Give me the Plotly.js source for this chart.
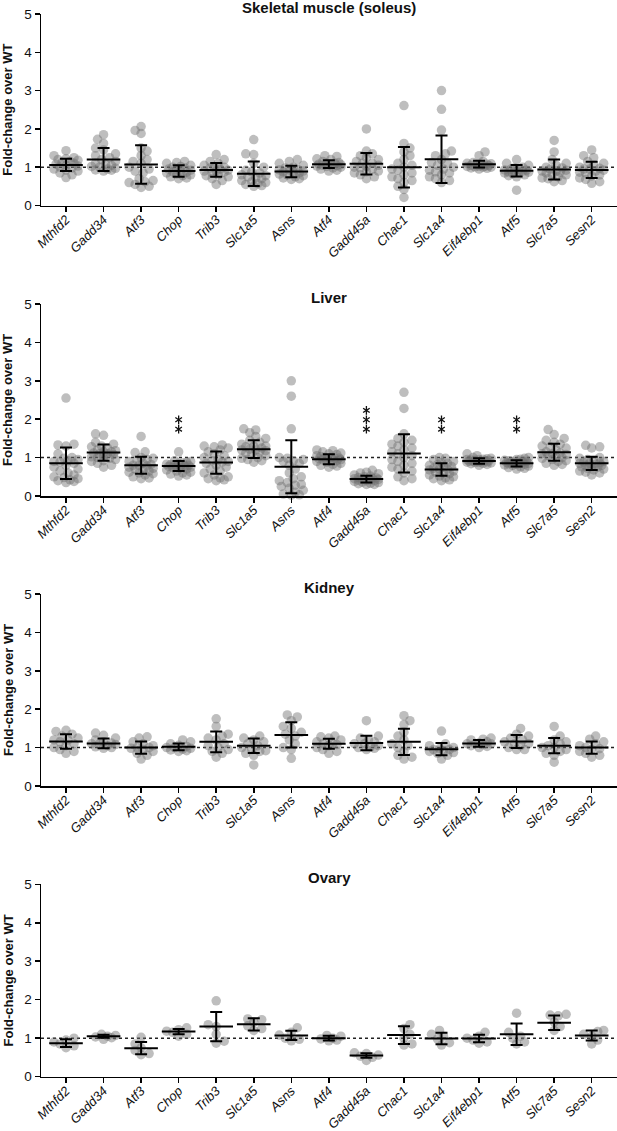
<!DOCTYPE html>
<html>
<head>
<meta charset="utf-8">
<script src="https://cdn.plot.ly/plotly-3.0.1.min.js"></script>
<style>html,body{margin:0;padding:0;background:#fff;}#chart{width:617px;height:1131px;}</style>
</head>
<body>
<div id="chart"></div>
<script>
// ---------- DATA ----------
const genes = ["Mthfd2","Gadd34","Atf3","Chop","Trib3","Slc1a5","Asns","Atf4","Gadd45a","Chac1","Slc1a4","Eif4ebp1","Atf5","Slc7a5","Sesn2"];
const panelTitles = ["Skeletal muscle (soleus)","Liver","Kidney","Ovary"];
const yTickVals = [0,1,2,3,4,5];

const muscle_points = [
  [1.43,1.3,1.25,1.22,1.2,1.18,1.15,1.12,1.1,1.08,1.05,1.03,1.0,0.98,0.95,0.92,0.9,0.85,0.8,0.73],
  [1.85,1.73,1.62,1.5,1.45,1.35,1.3,1.25,1.2,1.15,1.1,1.05,1.02,1.0,0.97,0.95,0.93,0.9,0.92,1.08],
  [2.06,1.96,1.88,1.5,1.42,1.3,1.2,1.1,1.0,0.95,0.85,0.7,0.65,0.62,0.6,0.55,0.5,0.47,0.9,1.15],
  [1.15,1.12,1.1,1.05,1.02,1.0,0.98,0.95,0.92,0.9,0.88,0.85,0.82,0.8,0.78,0.75,0.72,0.7,0.87,0.93],
  [1.33,1.2,1.15,1.1,1.05,1.0,0.98,0.95,0.92,0.9,0.87,0.85,0.8,0.78,0.75,0.7,0.65,0.55,1.0,0.9],
  [1.72,1.35,1.33,1.1,1.0,0.92,0.88,0.85,0.8,0.75,0.72,0.7,0.65,0.62,0.6,0.57,0.55,0.52,0.5,0.78],
  [1.2,1.15,1.1,1.05,1.0,0.98,0.95,0.92,0.9,0.88,0.85,0.82,0.8,0.78,0.75,0.72,0.7,0.68,0.87,0.93],
  [1.3,1.28,1.22,1.2,1.15,1.12,1.1,1.08,1.07,1.05,1.04,1.02,1.0,0.98,0.95,0.92,0.9,1.06,1.1,1.03],
  [2.0,1.42,1.35,1.3,1.25,1.2,1.15,1.1,1.05,1.0,0.98,0.95,0.9,0.88,0.85,0.8,0.75,0.7,1.1,1.02],
  [2.61,1.62,1.5,1.4,1.3,1.2,1.1,1.05,1.0,0.92,0.85,0.8,0.75,0.7,0.65,0.6,0.5,0.42,0.21,0.95],
  [3.0,2.51,1.97,1.42,1.35,1.3,1.2,1.1,1.05,1.0,0.92,0.88,0.85,0.8,0.75,0.7,0.65,0.6,1.12,0.95],
  [1.4,1.3,1.15,1.12,1.1,1.08,1.07,1.05,1.04,1.03,1.02,1.0,0.98,0.97,0.95,1.06,1.09,1.0,1.03,1.01],
  [1.2,1.1,1.05,1.0,0.98,0.95,0.93,0.92,0.9,0.88,0.86,0.85,0.83,0.8,0.78,0.75,0.4,0.9,0.95,0.87],
  [1.7,1.4,1.2,1.1,1.05,1.0,0.98,0.95,0.92,0.9,0.87,0.85,0.82,0.8,0.75,0.72,0.7,0.65,0.62,0.9],
  [1.45,1.3,1.25,1.15,1.1,1.05,1.0,0.97,0.95,0.92,0.9,0.87,0.85,0.8,0.77,0.72,0.68,0.62,0.58,0.95]
];
const muscle_mean = [1.06,1.2,1.07,0.9,0.93,0.83,0.89,1.08,1.09,1.0,1.21,1.08,0.91,0.94,0.93];
const muscle_sd   = [0.16,0.3,0.5,0.15,0.18,0.32,0.15,0.1,0.28,0.53,0.62,0.09,0.15,0.26,0.21];

const liver_points = [
  [2.55,1.35,1.33,1.3,1.1,1.0,0.98,0.95,0.9,0.88,0.85,0.8,0.75,0.7,0.65,0.6,0.55,0.5,0.48,0.45,0.42,0.4,0.38,0.35,0.92],
  [1.62,1.58,1.4,1.35,1.3,1.28,1.25,1.2,1.18,1.15,1.12,1.1,1.08,1.05,1.02,1.0,0.98,0.95,0.92,0.9,0.85,0.8,0.75,1.1,1.15],
  [1.55,1.15,1.13,1.0,0.98,0.95,0.92,0.9,0.85,0.82,0.8,0.78,0.75,0.72,0.7,0.68,0.65,0.62,0.6,0.58,0.55,0.5,0.47,0.45,0.8],
  [1.15,0.92,0.9,0.88,0.86,0.85,0.83,0.82,0.8,0.79,0.78,0.77,0.76,0.75,0.74,0.72,0.7,0.68,0.65,0.62,0.6,0.57,0.55,0.52,0.8],
  [1.33,1.3,1.28,1.25,1.2,1.15,1.1,1.05,1.0,0.95,0.92,0.9,0.85,0.8,0.75,0.7,0.65,0.6,0.55,0.5,0.47,0.45,0.42,0.4,0.88],
  [1.75,1.72,1.65,1.55,1.5,1.45,1.4,1.35,1.3,1.28,1.25,1.22,1.2,1.18,1.15,1.12,1.1,1.05,1.0,0.98,0.95,0.92,0.88,1.2,1.3],
  [3.0,2.6,1.75,1.0,0.98,0.95,0.92,0.9,0.85,0.8,0.7,0.6,0.5,0.45,0.4,0.35,0.3,0.28,0.25,0.2,0.15,0.1,0.05,0.03,0.02],
  [1.2,1.18,1.15,1.12,1.1,1.08,1.05,1.03,1.0,0.99,0.98,0.97,0.96,0.95,0.94,0.92,0.9,0.88,0.85,0.82,0.8,0.78,0.75,1.0,0.93],
  [0.67,0.62,0.6,0.58,0.55,0.52,0.5,0.48,0.47,0.46,0.45,0.44,0.43,0.42,0.41,0.4,0.38,0.36,0.35,0.33,0.32,0.3,0.3,0.45,0.4],
  [2.7,2.28,1.62,1.5,1.45,1.4,1.35,1.3,1.25,1.2,1.1,1.05,1.0,0.95,0.9,0.85,0.8,0.75,0.7,0.65,0.6,0.5,0.45,0.4,1.15],
  [1.0,0.98,0.95,0.9,0.87,0.85,0.82,0.8,0.77,0.75,0.72,0.7,0.68,0.65,0.62,0.6,0.58,0.55,0.52,0.5,0.47,0.45,0.42,0.4,0.7],
  [1.1,1.05,1.0,0.98,0.97,0.96,0.95,0.94,0.93,0.92,0.91,0.9,0.89,0.88,0.87,0.86,0.85,0.84,0.82,0.8,0.9,0.92,0.88,0.95,0.9],
  [1.0,0.98,0.96,0.95,0.93,0.92,0.9,0.89,0.88,0.87,0.86,0.85,0.84,0.83,0.82,0.81,0.8,0.78,0.76,0.74,0.72,0.7,0.85,0.86,0.9],
  [1.73,1.6,1.5,1.45,1.4,1.35,1.3,1.28,1.25,1.2,1.15,1.12,1.1,1.08,1.05,1.02,1.0,0.98,0.95,0.92,0.9,0.85,0.82,0.8,1.1],
  [1.32,1.28,1.25,1.0,0.98,0.95,0.92,0.9,0.88,0.86,0.85,0.83,0.8,0.78,0.76,0.75,0.72,0.7,0.68,0.65,0.62,0.6,0.55,0.85,0.8]
];
const liver_mean = [0.85,1.13,0.8,0.78,0.87,1.22,0.76,0.96,0.44,1.11,0.69,0.91,0.85,1.14,0.85];
const liver_sd   = [0.41,0.21,0.22,0.13,0.29,0.23,0.69,0.13,0.09,0.5,0.16,0.07,0.08,0.22,0.17];
const liver_stars = [0,0,0,2,0,0,0,0,3,0,2,0,2,0,0];

const kidney_points = [
  [1.45,1.42,1.35,1.3,1.25,1.2,1.15,1.1,1.05,1.0,0.95,0.9,0.85,1.2],
  [1.38,1.32,1.25,1.2,1.15,1.12,1.1,1.08,1.05,1.02,1.0,0.98,1.1],
  [1.28,1.25,1.15,1.1,1.05,1.0,0.98,0.95,0.9,0.85,0.8,0.7,1.0],
  [1.2,1.15,1.1,1.06,1.03,1.0,0.98,0.96,0.94,0.92,0.9,1.0],
  [1.75,1.55,1.35,1.3,1.25,1.2,1.1,1.05,1.0,0.95,0.9,0.85,0.75],
  [1.3,1.25,1.2,1.15,1.1,1.05,1.0,0.95,0.92,0.9,0.85,0.8,0.55],
  [1.85,1.8,1.7,1.55,1.5,1.4,1.35,1.3,1.2,1.1,1.0,0.95,0.72],
  [1.3,1.28,1.25,1.2,1.15,1.1,1.08,1.05,1.0,0.95,0.9,0.85,1.1],
  [1.7,1.3,1.25,1.2,1.15,1.1,1.05,1.02,1.0,0.98,0.95,1.1],
  [1.83,1.7,1.6,1.4,1.3,1.2,1.1,1.0,0.9,0.8,0.75,0.7,1.05],
  [1.43,1.1,1.05,1.0,0.97,0.95,0.92,0.9,0.87,0.85,0.8,0.7,0.95],
  [1.25,1.22,1.2,1.15,1.12,1.1,1.08,1.05,1.03,1.0,1.1,1.1],
  [1.5,1.35,1.3,1.25,1.2,1.15,1.1,1.05,1.0,0.95,0.95,1.1],
  [1.55,1.3,1.2,1.15,1.1,1.05,1.0,0.95,0.9,0.85,0.8,0.62,1.0],
  [1.3,1.22,1.15,1.1,1.05,1.0,0.97,0.95,0.9,0.85,0.8,0.75]
];
const kidney_mean = [1.16,1.11,1.0,1.02,1.15,1.05,1.33,1.1,1.12,1.15,0.96,1.11,1.16,1.05,1.0];
const kidney_sd   = [0.19,0.13,0.16,0.09,0.27,0.19,0.33,0.13,0.19,0.34,0.16,0.09,0.17,0.2,0.16];

const ovary_points = [
  [1.0,0.95,0.9,0.85,0.8,0.75],
  [1.1,1.07,1.05,1.03,1.01,0.97],
  [1.02,0.85,0.75,0.68,0.6,0.57],
  [1.27,1.22,1.18,1.15,1.1,1.05],
  [1.97,1.35,1.3,1.1,0.92,0.87],
  [1.5,1.48,1.42,1.32,1.25,1.2],
  [1.27,1.15,1.08,1.0,0.97,0.93],
  [1.07,1.05,1.0,0.98,0.95,0.93],
  [0.62,0.6,0.56,0.53,0.5,0.42],
  [1.35,1.25,1.1,1.0,0.85,0.82],
  [1.2,1.1,1.05,0.98,0.88,0.82],
  [1.15,1.05,1.0,0.95,0.9,0.87],
  [1.65,1.15,1.05,1.0,0.9,0.85],
  [1.62,1.6,1.58,1.42,1.3,1.2],
  [1.2,1.17,1.1,1.05,0.95,0.85]
];
const ovary_mean = [0.87,1.05,0.74,1.17,1.3,1.36,1.07,1.0,0.55,1.08,0.99,0.99,1.1,1.4,1.07];
const ovary_sd   = [0.1,0.04,0.16,0.07,0.38,0.16,0.12,0.06,0.06,0.23,0.15,0.1,0.28,0.19,0.13];

// ---------- LAYOUT GEOMETRY ----------
const W = 617, H = 1131, ML = 41;
const plotW = W - ML;
const firstCatPx = 25, catStep = 37.55;
const xRange = [-firstCatPx / catStep, (plotW - firstCatPx) / catStep];
const panelPx = [[14, 205.5], [304, 496], [594, 786], [884.3, 1076.6]];
const pxPerY = (205.5 - 14) / 5;

const FONT = '"Liberation Sans", Arial, sans-serif';

const panels = [
  {pts: muscle_points, mean: muscle_mean, sd: muscle_sd, stars: null},
  {pts: liver_points, mean: liver_mean, sd: liver_sd, stars: liver_stars},
  {pts: kidney_points, mean: kidney_mean, sd: kidney_sd, stars: null},
  {pts: ovary_points, mean: ovary_mean, sd: ovary_sd, stars: null}
];

// deterministic beeswarm-like spreading (pixel space)
function swarm(vals, idx) {
  const order = vals.map((v, i) => i).sort((a, b) => vals[a] - vals[b]);
  const placed = [];
  const xs = new Array(vals.length);
  const minD = 6.5, step = 2, maxOff = 13;
  order.forEach((i, k) => {
    const yp = vals[i] * pxPerY;
    const cands = [0];
    for (let s = step; s <= maxOff; s += step) {
      if (k % 2) cands.push(s, -s); else cands.push(-s, s);
    }
    let best = 0, bestD = -1;
    for (const c of cands) {
      let d = Infinity;
      for (const p of placed) d = Math.min(d, Math.hypot(p[0] - c, p[1] - yp));
      if (d >= minD) { best = c; bestD = d; break; }
      if (d > bestD) { bestD = d; best = c; }
    }
    placed.push([best, yp]);
    xs[i] = idx + best / catStep;
  });
  return xs;
}

const data = [];
const layout = {
  width: W, height: H,
  margin: {l: ML, r: 0, t: 0, b: 0, pad: 0},
  paper_bgcolor: '#fff', plot_bgcolor: 'rgba(0,0,0,0)',
  showlegend: false,
  font: {family: FONT, color: '#000'},
  shapes: [], annotations: []
};

panels.forEach((p, k) => {
  const sfx = k === 0 ? '' : String(k + 1);
  const xa = 'x' + sfx, ya = 'y' + sfx;
  const top = panelPx[k][0], bot = panelPx[k][1];
  const dom = [1 - bot / H, 1 - top / H];

  // points
  const px = [], py = [];
  p.pts.forEach((vals, gi) => {
    const xs = swarm(vals, gi);
    vals.forEach((v, j) => { px.push(xs[j]); py.push(v); });
  });
  data.push({
    type: 'scatter', mode: 'markers', x: px, y: py, xaxis: xa, yaxis: ya,
    marker: {size: 9.5, color: 'rgba(110,110,110,0.45)', line: {width: 0}},
    hoverinfo: 'skip', cliponaxis: false
  });
  // mean ± SD
  data.push({
    type: 'scatter', mode: 'markers', x: genes.map((g, i) => i), y: p.mean,
    xaxis: xa, yaxis: ya,
    marker: {symbol: 'line-ew', size: 24, color: '#000', line: {width: 2, color: '#000'}},
    error_y: {type: 'data', array: p.sd, visible: true, color: '#000', thickness: 2, width: 6},
    hoverinfo: 'skip', cliponaxis: false
  });

  // significance stars (6-spoke asterisks built from two Y symbols)
  if (p.stars) {
    const sx = [], sy = [];
    p.stars.forEach((n, gi) => {
      for (let s = 0; s < n; s++) { sx.push(gi); sy.push(1.74 + s * 0.245); }
    });
    ['y-up-open', 'y-down-open'].forEach(sym => {
      data.push({
        type: 'scatter', mode: 'markers', x: sx, y: sy, xaxis: xa, yaxis: ya,
        marker: {symbol: sym, size: 5.5, color: '#111', line: {width: 1.3, color: '#111'}},
        hoverinfo: 'skip', cliponaxis: false
      });
    });
  }

  layout['xaxis' + sfx] = {
    domain: [0, 1], anchor: ya, range: xRange, fixedrange: true,
    tickmode: 'array', tickvals: genes.map((g, i) => i), ticktext: genes,
    tickangle: -45, tickfont: {family: FONT, size: 13, style: 'italic', color: '#111'},
    ticklabelstandoff: -5,
    showline: true, linecolor: '#000', linewidth: 1.5,
    ticks: 'outside', ticklen: 5, tickwidth: 1.5, tickcolor: '#000',
    showgrid: false, zeroline: false
  };
  layout['yaxis' + sfx] = {
    domain: dom, anchor: xa, range: [0, 5], fixedrange: true,
    tickmode: 'array', tickvals: yTickVals, ticktext: yTickVals.map(String),
    tickfont: {family: FONT, size: 13.5, color: '#111'},
    showline: true, linecolor: '#000', linewidth: 1.5,
    ticks: 'outside', ticklen: 5, tickwidth: 1.5, tickcolor: '#000',
    showgrid: false, zeroline: false
  };

  // dotted reference line at 1
  layout.shapes.push({
    type: 'line', xref: 'paper', x0: 0, x1: 1, yref: ya, y0: 1, y1: 1,
    line: {color: '#222', width: 1.5, dash: 'dot'}, layer: 'below'
  });

  // panel title
  layout.annotations.push({
    xref: 'paper', yref: 'paper', x: 0.5, y: 1 - (top - 7) / H,
    xanchor: 'center', yanchor: 'middle', showarrow: false,
    text: '<b>' + panelTitles[k] + '</b>', font: {family: FONT, size: 15, color: '#111'}
  });
  // y axis title
  layout.annotations.push({
    xref: 'paper', yref: 'paper', x: (8 - ML) / plotW, y: 1 - ((top + bot) / 2) / H,
    xanchor: 'center', yanchor: 'middle', showarrow: false, textangle: -90,
    text: '<b>Fold-change over WT</b>', font: {family: FONT, size: 13, color: '#111'}
  });
});

Plotly.newPlot('chart', data, layout, {staticPlot: true, displayModeBar: false});
</script>
</body>
</html>
